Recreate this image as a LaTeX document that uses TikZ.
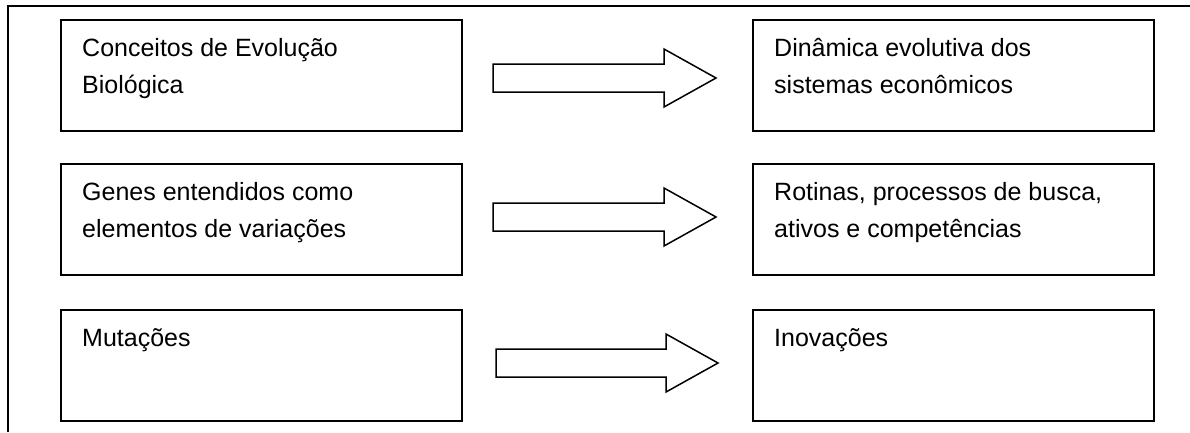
\documentclass[tikz,border=0pt]{standalone}
\usepackage{fontspec}
\setmainfont{Liberation Sans}
\begin{document}
\begin{tikzpicture}[x=1pt,y=-1pt,
  box/.style={draw, line width=1.8pt, inner sep=0pt, minimum width=401pt, minimum height=111pt, anchor=north west},
  txt/.style={anchor=base west, inner sep=0pt, align=left, font=\fontsize{25}{37}\selectfont},
  blockarrow/.style={draw, line width=1.5pt, fill=white, line join=miter}]
\useasboundingbox (0,0) rectangle (1190,432);
\draw[line width=1.8pt] (1190,6) -- (8,6) -- (8,432);
% boxes
\node[box] (l1) at (60,19) {};
\node[box] (l2) at (60,163) {};
\node[box] (l3) at (60,309) {};
\node[box] (r1) at (752,19) {};
\node[box] (r2) at (752,163) {};
\node[box] (r3) at (752,309) {};
% texts (base anchor = baseline of the last line)
\node[txt] (tl1) at ([shift={(22,74)}]l1.north west) {Conceitos de Evolução\\Biológica};
\node[txt] (tl2) at ([shift={(22,74)}]l2.north west) {Genes entendidos como\\elementos de variações};
\node[txt] (tl3) at ([shift={(22,37)}]l3.north west) {Mutações};
\node[txt] (tr1) at ([shift={(22,74)}]r1.north west) {Dinâmica evolutiva dos\\sistemas econômicos};
\node[txt] (tr2) at ([shift={(22,74)}]r2.north west) {Rotinas, processos de busca,\\ativos e competências};
\node[txt] (tr3) at ([shift={(22,37)}]r3.north west) {Inovações};
% block arrows
\foreach \c/\xa/\xb/\xc in {78/493/664/716, 217/493/664/716, 363/496/666/718}{
  \draw[blockarrow] (\xa,\c-14) -- (\xb,\c-14) -- (\xb,\c-29) -- (\xc,\c) -- (\xb,\c+29) -- (\xb,\c+14) -- (\xa,\c+14) -- cycle;
}
\end{tikzpicture}
\end{document}
